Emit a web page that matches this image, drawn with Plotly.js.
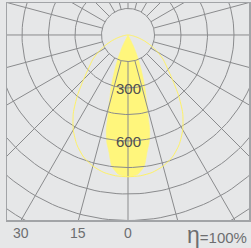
<!DOCTYPE html>
<html>
<head>
<meta charset="utf-8">
<script src="https://cdn.plot.ly/plotly-3.0.1.min.js"></script>
<style>html,body{margin:0;padding:0;background:#e6e7e8;}#chart{width:251px;height:248px;}</style>
</head>
<body>
<div id="chart"></div>
<script>
// C0-C180 plane (filled), angle in degrees from nadir, intensity in cd/klm
const c0Angles = [0, 2, 4, 6, 7, 8, 9, 10, 11, 12, 13, 14, 15, 16, 17, 18, 19, 20, 21, 22, 23, 24, 25, 26, 27, 28, 29];
const c0Values = [802, 798, 790, 765, 750, 718, 680, 650, 625, 590, 545, 470, 420, 375, 340, 305, 270, 235, 205, 175, 150, 125, 98, 70, 40, 10, 0];
// C90-C270 plane (outline)
const c90Angles = [0, 5, 10, 15, 20, 25, 30, 35, 40, 45, 50, 55, 60, 65, 70, 75, 80, 85, 90];
const c90Values = [802, 800, 790, 768, 735, 685, 620, 540, 445, 355, 290, 245, 195, 145, 100, 60, 30, 10, 0];
// grid
const circleValues = [150, 300, 450, 600, 750, 900, 1050, 1200];
const radialLabels = [300, 600];
const angleLabels = [30, 15, 0];
const efficiencyLabel = "η=100%";

const d2r = Math.PI / 180;
function toXY(angles, values) {
  const xs = [], ys = [];
  for (let i = angles.length - 1; i >= 0; i--) {
    xs.push(-values[i] * Math.sin(angles[i] * d2r));
    ys.push(-values[i] * Math.cos(angles[i] * d2r));
  }
  for (let i = 1; i < angles.length; i++) {
    xs.push(values[i] * Math.sin(angles[i] * d2r));
    ys.push(-values[i] * Math.cos(angles[i] * d2r));
  }
  return {xs, ys};
}

const fillPts = toXY(c0Angles, c0Values);
const linePts = toXY(c90Angles, c90Values);

const gx = [], gy = [];
circleValues.forEach(r => {
  for (let a = 0; a <= 360; a += 2) {
    gx.push(r * Math.cos(a * d2r));
    gy.push(r * Math.sin(a * d2r));
  }
  gx.push(null); gy.push(null);
});
for (let a = 0; a < 360; a += 15) {
  gx.push(150 * Math.sin(a * d2r), 3000 * Math.sin(a * d2r), null);
  gy.push(-150 * Math.cos(a * d2r), -3000 * Math.cos(a * d2r), null);
}

const xRange = [-685, 685];
const yRange = [-1047, 181];

const traces = [
  {x: fillPts.xs, y: fillPts.ys, type: 'scatter', mode: 'lines', fill: 'toself',
   fillcolor: '#fff67c', line: {color: '#fff67c', width: 0.5, shape: 'spline', smoothing: 0.6}, hoverinfo: 'skip'},
  {x: gx, y: gy, type: 'scatter', mode: 'lines', line: {color: '#8a8b8d', width: 1},
   hoverinfo: 'skip', connectgaps: false},
  {x: linePts.xs, y: linePts.ys, type: 'scatter', mode: 'lines',
   line: {color: '#fff266', width: 1, shape: 'spline', smoothing: 0.6}, hoverinfo: 'skip'}
];

const annotations = [];
radialLabels.forEach(v => annotations.push({
  x: 0, y: -v, xref: 'x', yref: 'y', text: String(v), showarrow: false,
  font: {family: 'Liberation Sans, Arial, sans-serif', size: 15, color: '#505050'}
}));
angleLabels.forEach((a) => {
  const xb = yRange[0] * Math.tan(a * d2r);
  const leftEdge = xb < xRange[0] + 60;
  annotations.push({
    x: leftEdge ? xRange[0] : xb, y: 0, xref: 'x', yref: 'paper',
    xanchor: leftEdge ? 'left' : 'center', yanchor: 'top', yshift: -3,
    text: String(a), showarrow: false,
    font: {family: 'Liberation Sans, Arial, sans-serif', size: 14, color: '#6d6e70'}
  });
});
annotations.push({
  x: 1, y: 0, xref: 'paper', yref: 'paper', xanchor: 'right', yanchor: 'top', yshift: 0,
  text: '<span style="font-size:23px">' + efficiencyLabel.charAt(0) + '</span>' + efficiencyLabel.slice(1),
  showarrow: false,
  font: {family: 'Liberation Sans, Arial, sans-serif', size: 15, color: '#6d6e70'}
});

const layout = {
  width: 251, height: 248,
  margin: {l: 7, r: 2, t: 3, b: 28, pad: 0},
  paper_bgcolor: '#e6e7e8', plot_bgcolor: '#e6e7e8',
  showlegend: false,
  xaxis: {range: xRange, showgrid: false, zeroline: false, showticklabels: false, ticks: '',
          showline: true, mirror: true, linecolor: '#a2a4a7', linewidth: 1.5, fixedrange: true},
  yaxis: {range: yRange, showgrid: false, zeroline: false, showticklabels: false, ticks: '',
          showline: true, mirror: true, linecolor: '#a2a4a7', linewidth: 1.5, fixedrange: true},
  annotations: annotations
};

Plotly.newPlot('chart', traces, layout, {displayModeBar: false, staticPlot: true});
</script>
</body>
</html>
